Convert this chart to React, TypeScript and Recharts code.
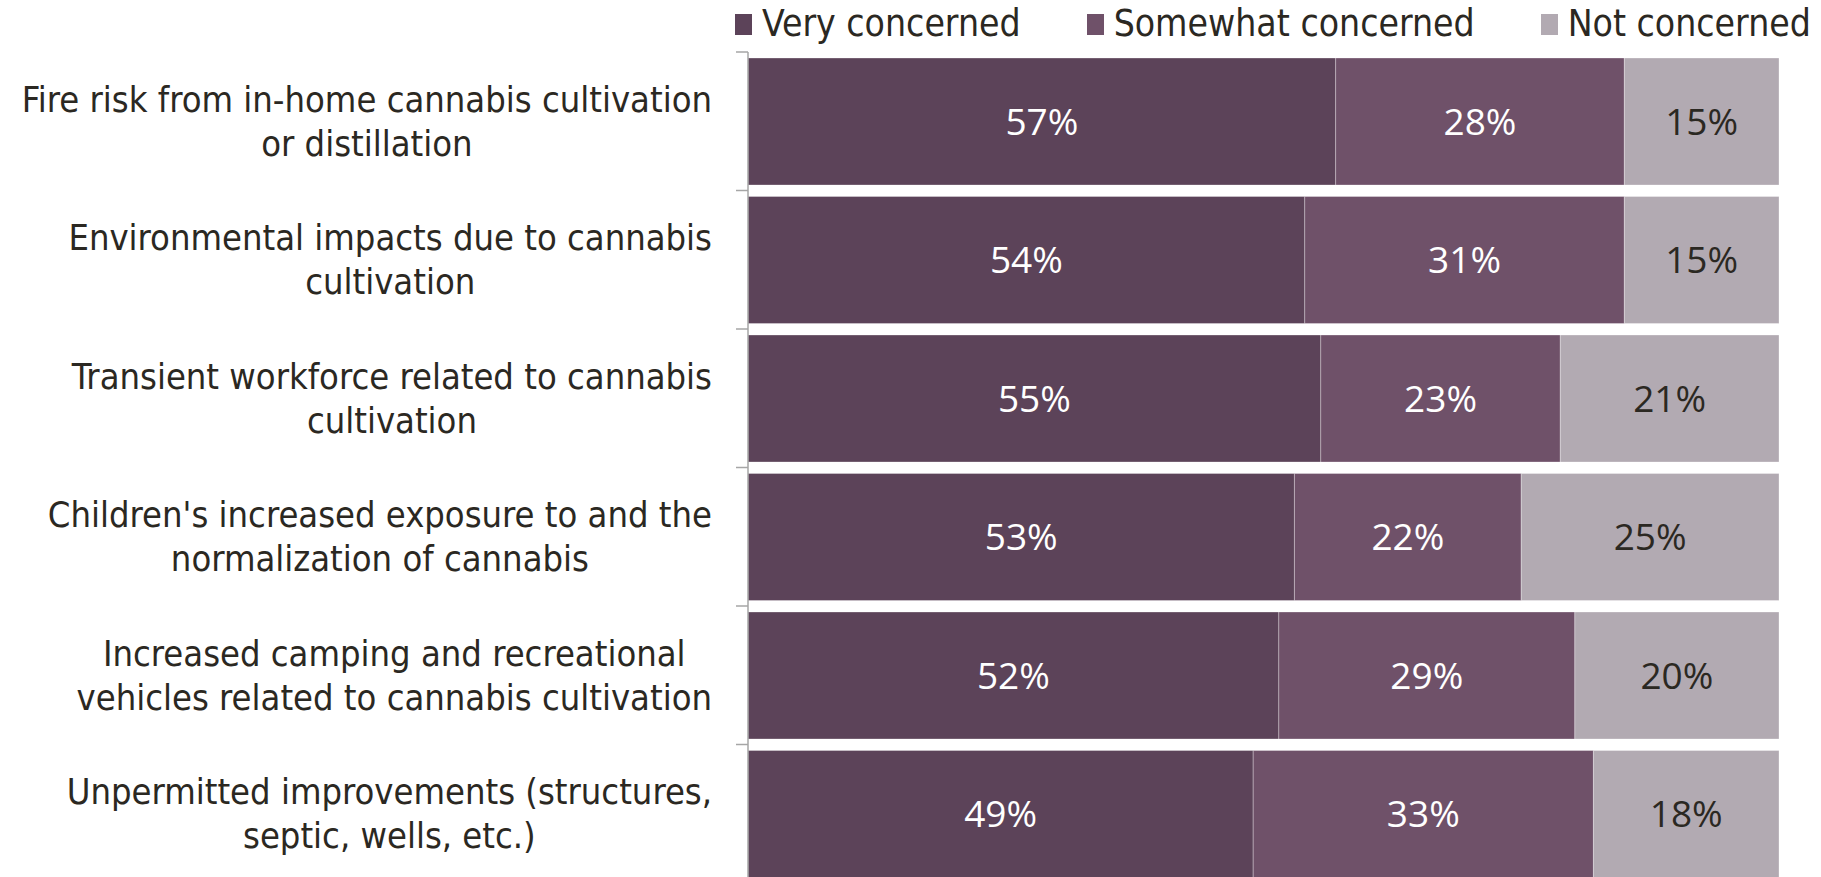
import React from 'react';
import { BarChart, Bar, XAxis, YAxis, Legend, LabelList } from 'recharts';

const categories = [
  'Fire risk from in-home cannabis cultivation\nor distillation',
  'Environmental impacts due to cannabis\ncultivation',
  'Transient workforce related to cannabis\ncultivation',
  "Children's increased exposure to and the\nnormalization of cannabis",
  'Increased camping and recreational\nvehicles related to cannabis cultivation',
  'Unpermitted improvements (structures,\nseptic, wells, etc.)',
];
const veryConcerned = [57, 54, 55, 53, 52, 49];
const somewhatConcerned = [28, 31, 23, 22, 29, 33];
const notConcerned = [15, 15, 21, 25, 20, 18];

const seriesNames = ['Very concerned', 'Somewhat concerned', 'Not concerned'];
const seriesColors = ['#5C4359', '#6F5169', '#B2AAB2'];

const data = categories.map((name, i) => ({
  name,
  very: veryConcerned[i],
  somewhat: somewhatConcerned[i],
  not: notConcerned[i],
}));

const LABEL_FONT = "'Liberation Sans Narrow', 'DejaVu Sans Condensed', 'Open Sans', sans-serif";
const LABEL_SIZE = 36;
const TEXT = '#2B2822';

let ctx: CanvasRenderingContext2D | null = null;
function measure(s: string) {
  if (!ctx) ctx = document.createElement('canvas').getContext('2d');
  if (!ctx) return s.length * 16;
  ctx.font = `${LABEL_SIZE}px ${LABEL_FONT}`;
  return ctx.measureText(s).width;
}

function CategoryTick(props: any) {
  const { x, y, payload } = props;
  const lines = String(payload.value).split('\n');
  const w = Math.max(...lines.map(measure));
  const cx = x - 36 - w / 2;
  const off = payload.offset ?? 69;
  const lh = 44;
  const y0 = y - ((lines.length - 1) * lh) / 2;
  return (
    <g>
      <line x1={x - 12} x2={x} y1={y - off} y2={y - off} stroke="#A6A6A6" strokeWidth={1.5} />
      {lines.map((l, i) => (
        <text key={i} x={cx} y={y0 + i * lh} textAnchor="middle" dominantBaseline="central"
          fontFamily={LABEL_FONT} fontSize={LABEL_SIZE} fill={TEXT}>
          {l}
        </text>
      ))}
    </g>
  );
}

function LegendBox() {
  return (
    <div style={{ display: 'flex', alignItems: 'center', paddingLeft: 735, height: 48, whiteSpace: 'nowrap' }}>
      {seriesNames.map((n, i) => (
        <div key={n} style={{ display: 'flex', alignItems: 'center', marginRight: 66, flex: 'none' }}>
          <span style={{ width: 17, height: 21, background: seriesColors[i], display: 'inline-block', marginRight: 10 }} />
          <span style={{ fontFamily: LABEL_FONT, fontSize: 37, color: TEXT, lineHeight: '48px' }}>{n}</span>
        </div>
      ))}
    </div>
  );
}

const pct = (v: any) => `${v}%`;

export default function App() {
  return (
    <div style={{ position: 'absolute', left: 0, top: 0, width: 1821, height: 877, overflow: 'hidden', background: '#fff' }}>
      <BarChart
        width={1821}
        height={883}
        data={data}
        layout="vertical"
        stackOffset="expand"
        barCategoryGap={6}
        margin={{ top: 52, right: 42, left: 0, bottom: 0 }}
      >
        <XAxis type="number" hide domain={[0, 1]} />
        <YAxis
          type="category"
          dataKey="name"
          width={748}
          tickLine={false}
          tickSize={0}
          tickMargin={0}
          axisLine={{ stroke: '#A6A6A6', strokeWidth: 1.5 }}
          tick={<CategoryTick />}
          interval={0}
        />
        <Legend verticalAlign="middle" align="center" wrapperStyle={{ top: 0, left: 0, width: 1821 }} content={() => <LegendBox />} />
        <Bar dataKey="very" name={seriesNames[0]} stackId="a" fill={seriesColors[0]} stroke="#ffffff" strokeOpacity={0.3} isAnimationActive={false}>
          <LabelList dataKey="very" position="center" formatter={pct} fill="#FFFFFF" fontSize={37} fontFamily="'Open Sans', sans-serif" />
        </Bar>
        <Bar dataKey="somewhat" name={seriesNames[1]} stackId="a" fill={seriesColors[1]} stroke="#ffffff" strokeOpacity={0.3} isAnimationActive={false}>
          <LabelList dataKey="somewhat" position="center" formatter={pct} fill="#FFFFFF" fontSize={37} fontFamily="'Open Sans', sans-serif" />
        </Bar>
        <Bar dataKey="not" name={seriesNames[2]} stackId="a" fill={seriesColors[2]} stroke="#ffffff" strokeOpacity={0.3} isAnimationActive={false}>
          <LabelList dataKey="not" position="center" formatter={pct} fill={TEXT} fontSize={37} fontFamily="'Open Sans', sans-serif" />
        </Bar>
      </BarChart>
    </div>
  );
}
